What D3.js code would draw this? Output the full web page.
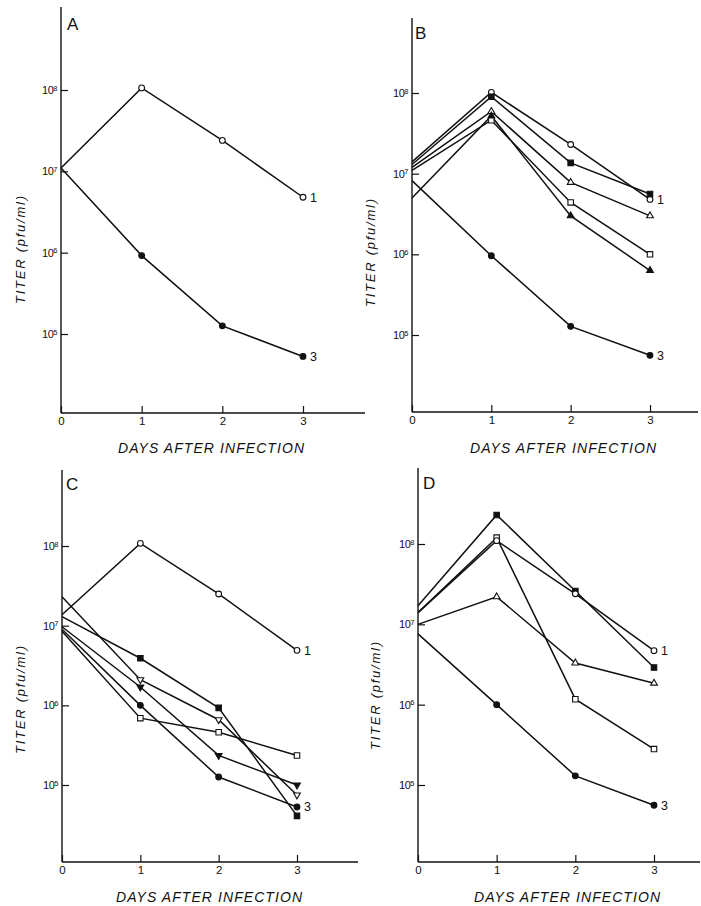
<!DOCTYPE html>
<html>
<head>
<meta charset="utf-8">
<script src="https://cdn.jsdelivr.net/npm/d3@7"></script>
<style>
  body { margin: 0; background: #fff; }
  svg text { font-family: "Liberation Sans", Arial, sans-serif; fill: #111; }
</style>
</head>
<body>
<svg id="chart" width="701" height="906"></svg>
<script>
// data
const days = [0, 1, 2, 3];
const titerTicks = [1e5, 1e6, 1e7, 1e8];
const tickExponents = ["5", "6", "7", "8"];
const panelNames = ["A", "B", "C", "D"];
const xTitle = "DAYS AFTER INFECTION";
const yTitle = "TITER (pfu/ml)";

// panel A
const aOpenCircle   = [1.1e7, 1.06e8, 2.4e7, 4.8e6];
const aFilledCircle = [1.1e7, 9.2e5, 1.26e5, 5.3e4];

// panel B
const bOpenCircle     = [1.4e7, 1.02e8, 2.3e7, 4.8e6];
const bFilledSquare   = [1.3e7, 9.0e7, 1.36e7, 5.6e6];
const bOpenTriangle   = [1.2e7, 5.9e7, 7.8e6, 3.0e6];
const bOpenSquare     = [1.1e7, 4.6e7, 4.4e6, 1.0e6];
const bFilledTriangle = [5.0e6, 5.2e7, 3.0e6, 6.3e5];
const bFilledCircle   = [8.2e6, 9.6e5, 1.28e5, 5.6e4];

// panel C
const cOpenCircle    = [1.37e7, 1.08e8, 2.5e7, 4.9e6];
const cFilledSquare  = [1.3e7, 3.9e6, 9.3e5, 4.1e4];
const cOpenTriDown   = [2.3e7, 2.1e6, 6.6e5, 7.5e4];
const cFilledTriDown = [9.7e6, 1.7e6, 2.35e5, 1.0e5];
const cFilledCircle  = [9.0e6, 1.0e6, 1.26e5, 5.3e4];
const cOpenSquare    = [8.5e6, 6.9e5, 4.6e5, 2.35e5];

// panel D
const dFilledSquare  = [1.7e7, 2.3e8, 2.6e7, 2.9e6];
const dOpenSquare    = [1.4e7, 1.2e8, 1.17e6, 2.8e5];
const dOpenCircle    = [1.4e7, 1.1e8, 2.4e7, 4.7e6];
const dOpenTriangle  = [1.0e7, 2.2e7, 3.3e6, 1.85e6];
const dFilledCircle  = [7.6e6, 1.0e6, 1.3e5, 5.6e4];

const panels = [
  { name: panelNames[0], x0: 61, x3: 303, y8: 90, y5: 334, top: 7, bottom: 413, right: 365,
    letter: [67, 30], yT: [25, 250], xT: [211, 453],
    series: [
      { v: aOpenCircle, shape: "circle", fill: false, end: "1" },
      { v: aFilledCircle, shape: "circle", fill: true, end: "3" }
    ] },
  { name: panelNames[1], x0: 412, x3: 650, y8: 93, y5: 335, top: 18, bottom: 412, right: 698,
    letter: [415, 39], yT: [375, 253], xT: [563, 453],
    series: [
      { v: bOpenCircle, shape: "circle", fill: false, end: "1" },
      { v: bFilledSquare, shape: "square", fill: true },
      { v: bOpenTriangle, shape: "tri", fill: false },
      { v: bOpenSquare, shape: "square", fill: false },
      { v: bFilledTriangle, shape: "tri", fill: true },
      { v: bFilledCircle, shape: "circle", fill: true, end: "3" }
    ] },
  { name: panelNames[2], x0: 62, x3: 297, y8: 546, y5: 785, top: 470, bottom: 862, right: 358,
    letter: [66, 490], yT: [25, 700], xT: [209, 902],
    series: [
      { v: cOpenCircle, shape: "circle", fill: false, end: "1" },
      { v: cFilledSquare, shape: "square", fill: true },
      { v: cOpenTriDown, shape: "triDown", fill: false },
      { v: cFilledTriDown, shape: "triDown", fill: true },
      { v: cOpenSquare, shape: "square", fill: false },
      { v: cFilledCircle, shape: "circle", fill: true, end: "3" }
    ] },
  { name: panelNames[3], x0: 418, x3: 654, y8: 544, y5: 785, top: 468, bottom: 862, right: 700,
    letter: [423, 489], yT: [380, 696], xT: [567, 902],
    series: [
      { v: dFilledSquare, shape: "square", fill: true },
      { v: dOpenSquare, shape: "square", fill: false },
      { v: dOpenCircle, shape: "circle", fill: false, end: "1" },
      { v: dOpenTriangle, shape: "tri", fill: false },
      { v: dFilledCircle, shape: "circle", fill: true, end: "3" }
    ] }
];

const svg = d3.select("#chart");
const ink = "#111";

const symbols = {
  circle: d3.symbol().type(d3.symbolCircle).size(26),
  square: d3.symbol().type(d3.symbolSquare).size(30),
  tri: d3.symbol().type(d3.symbolTriangle).size(20),
  triDown: d3.symbol().type(d3.symbolTriangle).size(20)
};

panels.forEach(p => {
  const x = d3.scaleLinear().domain([0, 3]).range([p.x0, p.x3]);
  const y = d3.scaleLog().domain([1e5, 1e8]).range([p.y5, p.y8]);
  const g = svg.append("g");

  // axis lines
  g.append("line").attr("x1", p.x0).attr("x2", p.x0).attr("y1", p.top).attr("y2", p.bottom)
    .attr("stroke", ink).attr("stroke-width", 1.4);
  g.append("line").attr("x1", p.x0).attr("x2", p.right).attr("y1", p.bottom).attr("y2", p.bottom)
    .attr("stroke", ink).attr("stroke-width", 1.4);

  // y axis (ticks pointing inward)
  g.append("g")
    .attr("transform", `translate(${p.x0},0)`)
    .call(d3.axisLeft(y).tickValues(titerTicks).tickSizeInner(-7).tickSizeOuter(0)
      .tickPadding(4).tickFormat(() => ""))
    .call(a => a.select(".domain").remove())
    .call(a => a.selectAll(".tick line").attr("stroke", ink).attr("stroke-width", 1.2))
    .call(a => a.selectAll(".tick text").each(function(d, i) {
      const t = d3.select(this).attr("font-size", 11).attr("fill", ink)
        .attr("letter-spacing", -0.5);
      t.append("tspan").text("10");
      t.append("tspan").attr("dy", "-0.45em").attr("font-size", 7.5).text(tickExponents[i]);
    }));

  // x axis
  g.append("g")
    .attr("transform", `translate(0,${p.bottom})`)
    .call(d3.axisBottom(x).tickValues(days).tickSizeInner(-7).tickSizeOuter(0)
      .tickPadding(4).tickFormat(d3.format("d")))
    .call(a => a.select(".domain").remove())
    .call(a => a.selectAll(".tick line").attr("stroke", ink).attr("stroke-width", 1.2))
    .call(a => a.selectAll(".tick text").attr("font-size", 11.5).attr("fill", ink));

  // titles
  g.append("text")
    .attr("x", p.xT[0]).attr("y", p.xT[1])
    .attr("text-anchor", "middle")
    .attr("font-size", 14).attr("font-style", "italic")
    .attr("textLength", 186).attr("lengthAdjust", "spacing")
    .text(xTitle);
  g.append("text")
    .attr("transform", `translate(${p.yT[0]},${p.yT[1]}) rotate(-90)`)
    .attr("text-anchor", "middle")
    .attr("font-size", 13).attr("font-style", "italic")
    .attr("textLength", 108).attr("lengthAdjust", "spacing")
    .text(yTitle);
  g.append("text")
    .attr("x", p.letter[0]).attr("y", p.letter[1])
    .attr("font-size", 17)
    .text(p.name);

  const line = d3.line().x((d, i) => x(days[i])).y(d => y(d));

  p.series.forEach(s => {
    g.append("path").datum(s.v)
      .attr("d", line)
      .attr("fill", "none")
      .attr("stroke", ink)
      .attr("stroke-width", 1.5);
  });

  p.series.forEach(s => {
    g.selectAll(null).data(s.v.slice(1)).enter().append("path")
      .attr("d", symbols[s.shape])
      .attr("transform", (d, i) => `translate(${x(days[i + 1])},${y(d)})` + (s.shape === "triDown" ? " rotate(180)" : ""))
      .attr("fill", s.fill ? ink : "#fff")
      .attr("stroke", ink)
      .attr("stroke-width", 1.1);
    if (s.end) {
      g.append("text")
        .attr("x", x(3) + 7).attr("y", y(s.v[3]) + 4.5)
        .attr("font-size", 12.5)
        .text(s.end);
    }
  });
});
</script>
</body>
</html>
